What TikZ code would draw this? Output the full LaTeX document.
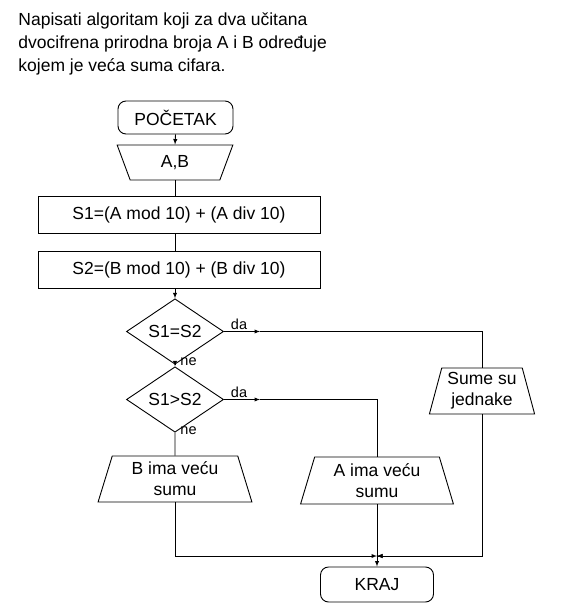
\documentclass[tikz,border=0pt]{standalone}
\usepackage{fontspec}
\setmainfont{Liberation Sans}
\usetikzlibrary{arrows,shapes.geometric}
\tikzstyle{terminal}=[draw,rounded corners=8pt,minimum width=115pt,minimum height=33pt,inner sep=0pt]
\tikzstyle{inout}=[draw,trapezium,trapezium left angle=74,trapezium right angle=74,trapezium stretches=true,inner sep=0pt,align=center,font=\fontsize{17.5}{21}\selectfont]
\tikzstyle{process}=[draw,rectangle,minimum width=282pt,minimum height=37pt,inner sep=0pt]
\tikzstyle{decision}=[draw,diamond,minimum width=97pt,minimum height=53pt,inner sep=0pt]
\tikzstyle{line}=[draw,line width=0.9pt]
\tikzstyle{arrow}=[draw,line width=0.9pt,->,>=latex]
\tikzstyle{answer}=[font=\fontsize{14.5}{14.5}\selectfont,inner sep=0pt]

\begin{document}
\begin{tikzpicture}[x=1pt,y=-1pt,line width=0.9pt,every node/.style={font=\fontsize{17.5}{23}\selectfont}]
    \useasboundingbox (0,0) rectangle (562,615);

    \node[anchor=north west,align=left,inner sep=0pt] (task) at (18,12)
        {Napisati algoritam koji za dva učitana\\dvocifrena prirodna broja A i B određuje\\kojem je veća suma cifara.};

    % blocks
    \node[terminal] (start) at (175.5,117.5) {POČETAK};
    \node[inout,shape border rotate=180,minimum width=116pt,minimum height=35pt] (ab) at (175,162.5) {A,B};
    \foreach \name/\y/\v/\n in {s1/214.5/A/1, s2/269.5/B/2}
        \node[process] (\name) at (179,\y) {S\n=(\v\ mod 10) + (\v\ div 10)};
    \node[decision] (eq) at (175,331.5) {S1=S2};
    \node[decision] (gt) at (175,399.5) {S1>S2};
    \node[inout,minimum width=154pt,minimum height=46pt] (bwin) at (175,479) {B ima veću\\sumu};
    \node[inout,minimum width=153pt,minimum height=47pt] (awin) at (377,480.5) {A ima veću\\sumu};
    \node[inout,minimum width=106pt,minimum height=46pt] (same) at (482,391) {Sume su\\jednake};
    \node[terminal,minimum width=113pt,minimum height=35pt] (end) at (377,584.5) {KRAJ};

    % answers
    \node[answer] (eqyes) at (239,324) {da};
    \node[answer] (gtyes) at (239,392) {da};
    \node[answer,anchor=west] (eqno) at (180,362) {ne};
    \node[answer,anchor=west] (gtno) at (180,431) {ne};

    \coordinate (eqmid) at (260,331.5);
    \coordinate (gtmid) at (260,399.5);
    \coordinate (join) at (377,556);

    % connectors
    \path[arrow] (start.south) -- (ab.north);
    \path[line] (ab.south) -- (ab.south |- s1.north);
    \path[line] (s1.south -| ab.south) -- (ab.south |- s2.north);
    \path[arrow] (s2.south -| eq.north) -- (eq.north);
    \path[arrow] (eq.south) -- (gt.north);
    \path[line] (gt.south) -- (bwin.north);
    \foreach \source/\mid/\dest in {eq/eqmid/same, gt/gtmid/awin} {
        \path[arrow] (\source.east) -- (\mid);
        \path[line] (\mid) -| (\dest.north);
    }
    \foreach \source in {bwin, awin, same}
        \path[arrow] (\source.south) |- (join);
    \path[arrow] (join) -- (end.north);
\end{tikzpicture}
\end{document}
